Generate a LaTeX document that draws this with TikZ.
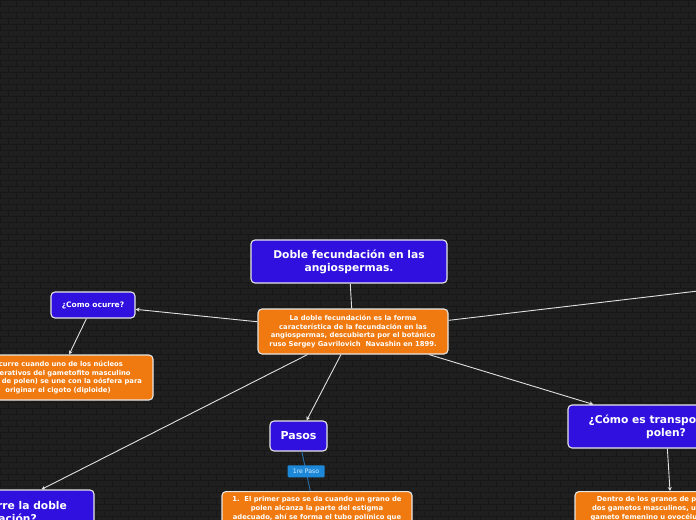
\documentclass[tikz,border=0pt]{standalone}
\usepackage{fontspec}
\setmainfont{DejaVu Sans}
\usetikzlibrary{arrows.meta}
\definecolor{bgcol}{HTML}{1F1F1F}
\definecolor{mortar}{HTML}{171717}
\definecolor{myblue}{RGB}{48,16,222}
\definecolor{myorange}{RGB}{240,122,16}
\definecolor{bordercol}{HTML}{E6E6E6}
\definecolor{linkcol}{HTML}{E0E0E0}
\definecolor{tagblue}{RGB}{30,136,216}
\definecolor{tagline}{RGB}{40,110,170}
\definecolor{tagtext}{HTML}{D6ECFF}
\tikzset{
  box/.style={draw=bordercol, line width=1.1bp, rounded corners=4bp, text=white,
    align=center, inner sep=0pt},
  bluebox/.style={box, fill=myblue},
  orangebox/.style={box, fill=myorange},
  link/.style={draw=linkcol, line width=0.9bp},
  arrlink/.style={link, -{Stealth[length=4bp,width=4bp]}},
  fsmall/.style={font=\fontsize{6.8bp}{8.7bp}\selectfont\bfseries},
  fbig/.style={font=\fontsize{10.7bp}{13bp}\selectfont\bfseries},
}
\begin{document}
\begin{tikzpicture}[x=1bp,y=-1bp]
\useasboundingbox (0,0) rectangle (696,520);
\clip (0,0) rectangle (696,520);
\fill[bgcol] (0,0) rectangle (696,520);
% brick pattern
\draw[mortar, line width=0.7bp] \foreach \r in {0,...,87} {(0,\r*6) -- (696,\r*6)};
\draw[mortar, line width=0.7bp] \foreach \r in {0,2,...,86} {\foreach \c in {0,16,...,704} {(\c,\r*6) -- ++(0,6)}};
\draw[mortar, line width=0.7bp] \foreach \r in {1,3,...,87} {\foreach \c in {8,24,...,712} {(\c,\r*6) -- ++(0,6)}};

% nodes
\node[bluebox, fbig, minimum width=196bp, minimum height=43bp] (title) at (349,261.5)
  {Doble fecundación en las\\angiospermas.};
\node[orangebox, fsmall, minimum width=190bp, minimum height=45bp] (central) at (353,331.5)
  {La doble fecundación es la forma\\característica de la fecundación en las\\angiospermas, descubierta por el botánico\\ruso Sergey Gavrilovich\ \ Navashin en 1899.};
\node[bluebox, font=\fontsize{7.5bp}{9bp}\selectfont\bfseries, minimum width=84bp, minimum height=26bp] (como) at (93,305)
  {¿Como ocurre?};
\node[orangebox, fsmall, minimum width=190bp, minimum height=45bp] (ocurre) at (58,377.5)
  {Ocurre cuando uno de los núcleos\\generativos del gametofito masculino\\(grano de polen) se une con la oósfera para\\originar el cigoto (diploide)};
\node[bluebox, fbig, minimum width=194bp, minimum height=44bp] (donde) at (-3,512)
  {¿Dónde ocurre la doble\\fecundación?};
\node[bluebox, font=\fontsize{11bp}{13bp}\selectfont\bfseries, minimum width=57bp, minimum height=30bp] (pasos) at (298.5,436)
  {Pasos};
\node[orangebox, fsmall, minimum width=190bp, inner ysep=5bp, anchor=north] (paso1) at (317,491)
  {1.\ \ El primer paso se da cuando un grano de\\polen alcanza la parte del estigma\\adecuado, ahí se forma el tubo polínico que};
\node[bluebox, fbig, minimum width=196bp, minimum height=43bp] (transp) at (666,426.5)
  {¿Cómo es transportado el\\polen?};
\node[orangebox, fsmall, minimum width=190bp, inner ysep=5bp, anchor=north] (dentro) at (670,491)
  {Dentro de los granos de polen existen\\dos gametos masculinos, uno fecunda al\\gameto femenino u ovocélula y el otro se};
\coordinate (offright) at (953,261);

% connectors
\draw[link] (title) -- (central);
\draw[arrlink] (central) -- (como);
\draw[arrlink] (como) -- (ocurre);
\draw[arrlink] (central) -- (donde);
\draw[arrlink] (central) -- (pasos);
\draw[arrlink] (central) -- (transp);
\draw[arrlink] (transp) -- (dentro.north);
\draw[link] (central) -- (offright);
\draw[draw=tagline, line width=0.9bp] (pasos) -- (paso1.111)
  node[midway, fill=tagblue, text=tagtext, font=\fontsize{6.2bp}{7bp}\selectfont,
       minimum width=37bp, minimum height=12bp, inner sep=0pt, rounded corners=1bp] (tag) {1re Paso};
\end{tikzpicture}
\end{document}
